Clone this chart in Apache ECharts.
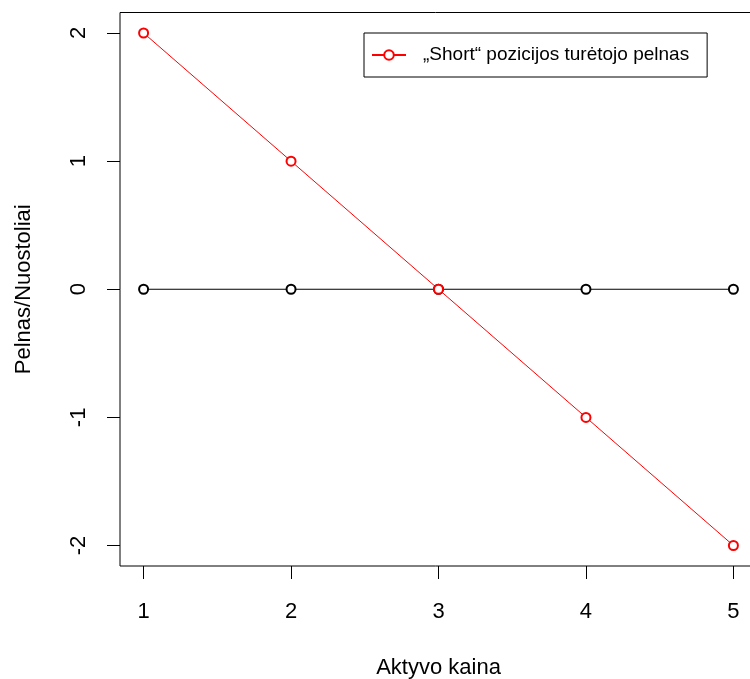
<!DOCTYPE html>
<html><head><meta charset="utf-8">
<script src="https://cdn.jsdelivr.net/npm/echarts@6/dist/echarts.min.js"></script>
<style>html,body{margin:0;padding:0;background:#fff;overflow:hidden}#c{width:750px;height:679px}</style>
</head><body><div id="c"></div>
<script>
const xValues = [1, 2, 3, 4, 5];
const zeroLine = [0, 0, 0, 0, 0];
const shortProfit = [2, 1, 0, -1, -2];
const xTicks = [1, 2, 3, 4, 5];
const yTicks = [-2, -1, 0, 1, 2];
const legendName = '\u201EShort\u201C pozicijos tur\u0117tojo pelnas';

const font = 'Liberation Sans, Arial, Helvetica, sans-serif';
const chart = echarts.init(document.getElementById('c'), null, {renderer: 'canvas'});
chart.setOption({
  animation: false,
  backgroundColor: '#fff',
  grid: {left: 120, top: 12.5, width: 637, height: 553.5, outerBoundsMode: 'none', containLabel: false, show: true, borderColor: '#000', borderWidth: 1, backgroundColor: 'transparent'},
  legend: {
    data: [legendName], left: 364, top: 33,
    borderColor: '#000', borderWidth: 1, padding: [12.5, 18, 12.5, 7],
    itemWidth: 34, itemHeight: 12, itemGap: 10,
    textStyle: {fontFamily: font, fontSize: 19, color: '#000', padding: [0, 0, 0, 12]}
  },
  xAxis: {
    type: 'value', min: 0.84, max: 5.16,
    name: 'Aktyvo kaina', nameLocation: 'middle', nameGap: 91,
    nameTextStyle: {fontFamily: font, fontSize: 22, color: '#000'},
    axisLine: {show: false, onZero: false},
    splitLine: {show: false},
    axisTick: {show: true, length: 13, customValues: xTicks, lineStyle: {color: '#000', width: 1}},
    axisLabel: {customValues: xTicks, margin: 35, fontFamily: font, fontSize: 22, color: '#000'}
  },
  yAxis: {
    type: 'value', min: -2.16, max: 2.16,
    name: 'Pelnas/Nuostoliai', nameLocation: 'middle', nameGap: 85,
    nameTextStyle: {fontFamily: font, fontSize: 22, color: '#000'},
    axisLine: {show: false, onZero: false},
    splitLine: {show: false},
    axisTick: {show: true, length: 13, customValues: yTicks, lineStyle: {color: '#000', width: 1}},
    axisLabel: {customValues: yTicks, rotate: 90, margin: 41, fontFamily: font, fontSize: 22, color: '#000', align: 'center', verticalAlign: 'middle'}
  },
  series: [
    {
      type: 'line', name: 'zero', data: xValues.map((x, i) => [x, zeroLine[i]]),
      symbol: 'emptyCircle', symbolSize: 9, showAllSymbol: true,
      lineStyle: {color: '#000', width: 1}, itemStyle: {color: '#000', borderWidth: 1}
    },
    {
      type: 'line', name: legendName, data: xValues.map((x, i) => [x, shortProfit[i]]),
      symbol: 'emptyCircle', symbolSize: 9, showAllSymbol: true,
      lineStyle: {color: '#ff0000', width: 1}, itemStyle: {color: '#ff0000', borderWidth: 1}
    }
  ]
});
</script></body></html>
